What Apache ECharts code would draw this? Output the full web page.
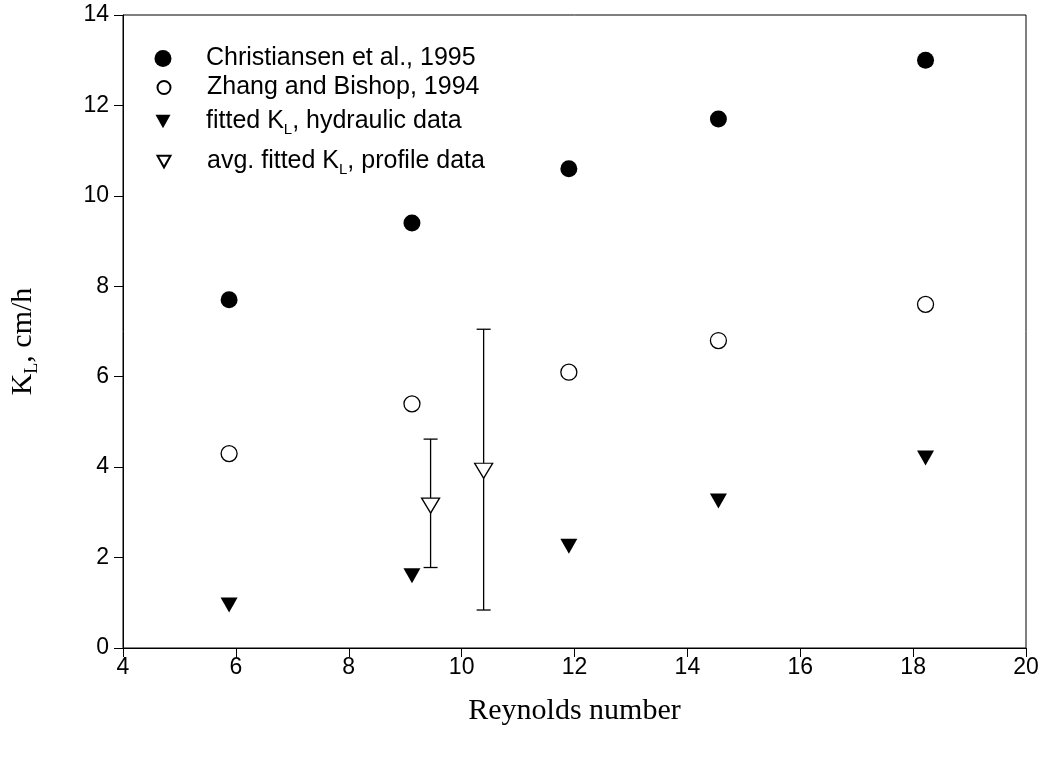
<!DOCTYPE html>
<html>
<head>
<meta charset="utf-8">
<script src="https://cdn.jsdelivr.net/npm/echarts@6/dist/echarts.min.js"></script>
<style>
  html, body { margin: 0; padding: 0; background: #fff; }
  #chart { width: 1047px; height: 757px; }
</style>
</head>
<body>
<div id="chart"></div>
<script>
// Reynolds number for each series
const reynolds = [5.88, 9.12, 11.9, 14.55, 18.22];
const christiansen = [7.7, 9.4, 10.6, 11.7, 13.0];
const zhangBishop = [4.3, 5.4, 6.1, 6.8, 7.6];
const fittedHydraulic = [0.95, 1.6, 2.25, 3.25, 4.2];

// profile data: mean with error bars
const profileX = [9.45, 10.39];
const profileAvg = [3.15, 3.92];
const profileLow = [1.78, 0.84];
const profileHigh = [4.62, 7.05];

const xTicks = [4, 6, 8, 10, 12, 14, 16, 18, 20];
const yTicks = [0, 2, 4, 6, 8, 10, 12, 14];

const names = [
  'Christiansen et al., 1995',
  'Zhang and Bishop, 1994',
  'fitted K{sub|L}, hydraulic data',
  'avg. fitted K{sub|L}, profile data'
];

const sansFont = '"Liberation Sans", Arial, sans-serif';
const serifFont = '"Liberation Serif", "Times New Roman", serif';

// downward pointing triangle for the legend icons
const downTriangle = 'path://M0,0 L10,0 L5,9 Z';

const pair = (xs, ys) => xs.map((x, i) => [x, ys[i]]);

const myChart = echarts.init(document.getElementById('chart'));

// one legend per row so the rows sit where they do in the figure
// icon centred at x=163, text starting at x=207 (legend has 5px padding)
const legendRow = (name, top, size, icon) => ({
  data: [icon ? { name: name, icon: icon } : name],
  orient: 'vertical',
  left: 158 - size / 2,
  top: top,
  itemWidth: size,
  itemHeight: size,
  itemGap: 0,
  selectedMode: false,
  textStyle: {
    fontFamily: sansFont,
    fontSize: 25,
    color: '#000',
    padding: [0, 0, 0, 38 - size / 2],
    rich: {
      sub: { fontFamily: sansFont, fontSize: 15, padding: [16, 0, 0, 0] }
    }
  }
});

const option = {
  animation: false,
  backgroundColor: '#fff',
  grid: {
    left: 122,
    right: 21,
    top: 15,
    bottom: 109,
    show: true,
    borderColor: '#000',
    borderWidth: 1
  },
  legend: [
    legendRow(names[0], 41, 17),
    legendRow(names[1], 70, 13),
    legendRow(names[2], 104, 15, downTriangle),
    legendRow(names[3], 144, 13, downTriangle)
  ],
  xAxis: {
    type: 'value',
    min: 4,
    max: 20,
    interval: 2,
    name: 'Reynolds number',
    nameLocation: 'middle',
    nameGap: 48,
    nameTextStyle: { fontFamily: serifFont, fontSize: 30, color: '#000' },
    axisLine: { lineStyle: { color: '#000', width: 1 } },
    axisTick: { show: true, inside: false, length: 9, lineStyle: { color: '#000' } },
    axisLabel: {
      fontFamily: sansFont, fontSize: 23, color: '#000', margin: 8,
      formatter: v => (xTicks.includes(v) ? String(v) : '')
    },
    splitLine: { show: false }
  },
  yAxis: {
    type: 'value',
    min: 0,
    max: 14,
    interval: 2,
    name: 'K{sub|L}, cm/h',
    nameLocation: 'middle',
    nameGap: 82,
    nameTextStyle: {
      fontFamily: serifFont, fontSize: 30, color: '#000',
      padding: [0, 20, 0, 0],
      rich: { sub: { fontFamily: serifFont, fontSize: 18, padding: [18, 0, 0, 0] } }
    },
    axisLine: { lineStyle: { color: '#000', width: 1 } },
    axisTick: { show: true, inside: false, length: 9, lineStyle: { color: '#000' } },
    axisLabel: {
      fontFamily: sansFont, fontSize: 23, color: '#000', margin: 14,
      formatter: v => (yTicks.includes(v) ? String(v) : '')
    },
    splitLine: { show: false }
  },
  series: [
    {
      name: names[0],
      type: 'scatter',
      symbol: 'circle',
      symbolSize: 17,
      itemStyle: { color: '#000', opacity: 1 },
      data: pair(reynolds, christiansen)
    },
    {
      name: names[1],
      type: 'scatter',
      symbol: 'circle',
      symbolSize: 16,
      itemStyle: { color: '#fff', borderColor: '#000', borderWidth: 1.3, opacity: 1 },
      data: pair(reynolds, zhangBishop)
    },
    {
      name: names[2],
      type: 'scatter',
      symbol: 'triangle',
      symbolRotate: 180,
      symbolSize: [17, 15],
      itemStyle: { color: '#000', opacity: 1 },
      data: pair(reynolds, fittedHydraulic)
    },
    {
      // error bars for the profile averages
      type: 'custom',
      z: 1,
      silent: true,
      renderItem: (params, api) => {
        const x = api.value(0);
        const lo = api.coord([x, api.value(1)]);
        const hi = api.coord([x, api.value(2)]);
        const cap = 7;
        const style = { stroke: '#000', lineWidth: 1.3 };
        return {
          type: 'group',
          children: [
            { type: 'line', shape: { x1: lo[0], y1: lo[1], x2: hi[0], y2: hi[1] }, style },
            { type: 'line', shape: { x1: lo[0] - cap, y1: lo[1], x2: lo[0] + cap, y2: lo[1] }, style },
            { type: 'line', shape: { x1: hi[0] - cap, y1: hi[1], x2: hi[0] + cap, y2: hi[1] }, style }
          ]
        };
      },
      data: profileX.map((x, i) => [x, profileLow[i], profileHigh[i]])
    },
    {
      name: names[3],
      type: 'scatter',
      z: 3,
      symbol: 'triangle',
      symbolRotate: 180,
      symbolSize: [18, 15],
      itemStyle: { color: '#fff', borderColor: '#000', borderWidth: 1.3, opacity: 1 },
      data: pair(profileX, profileAvg)
    }
  ]
};

myChart.setOption(option);
</script>
</body>
</html>
